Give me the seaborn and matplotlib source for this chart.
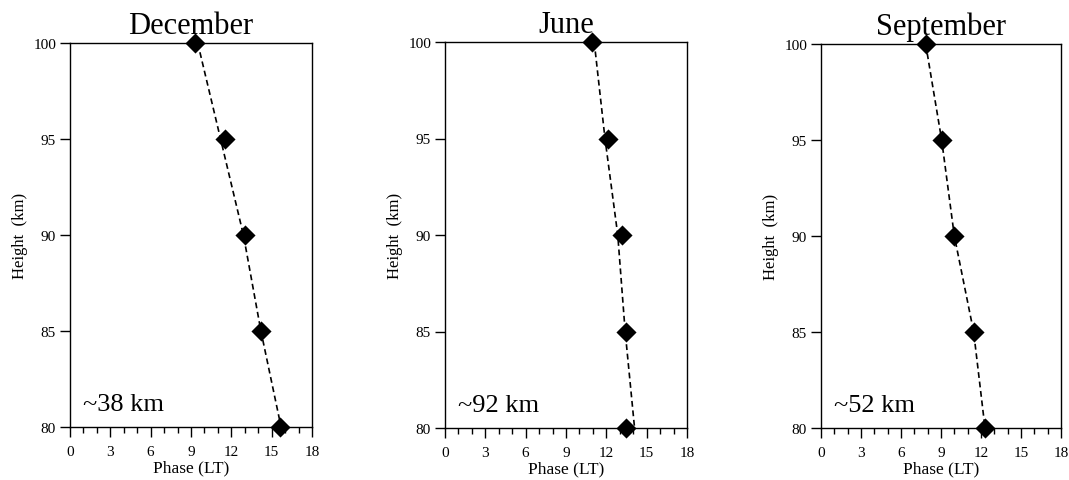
import numpy as np
import pandas as pd
import matplotlib
matplotlib.use("Agg")
import matplotlib.pyplot as plt
import seaborn as sns
from matplotlib.ticker import MultipleLocator

# Heights (km) shared by every panel
heights = [100, 95, 90, 85, 80]

# Phase (LT) at each height
dec_phase = [9.3, 11.55, 13.0, 14.2, 15.65]
jun_phase = [10.9, 12.1, 13.2, 13.45, 13.45]
sep_phase = [7.85, 9.1, 10.0, 11.5, 12.3]

# Dashed fit line vertices
dec_fit = [9.5, 11.2, 12.9, 14.2, 15.7]
jun_fit = [11.1, 11.9, 12.85, 13.4, 14.1]
sep_fit = [7.85, 9.05, 10.0, 11.45, 12.3]

months = ["December", "June", "September"]
wavelengths = ["~38 km", "~92 km", "~52 km"]

sns.set_style("ticks")
plt.rcParams['font.family'] = ['Liberation Serif', 'DejaVu Serif']
plt.rcParams['text.color'] = 'black'
plt.rcParams['axes.labelcolor'] = 'black'
plt.rcParams['xtick.color'] = 'black'
plt.rcParams['ytick.color'] = 'black'

fig = plt.figure(figsize=(10.69, 4.81), dpi=100)

# axes boxes in pixels: left, top, right, bottom
boxes = [(70, 44, 312, 428), (445, 43, 687, 429), (821, 45, 1061, 429)]
W, H = 1069, 481

panels = [(dec_phase, dec_fit), (jun_phase, jun_fit), (sep_phase, sep_fit)]

for (l, t, r, b), month, wl, (phase, fit) in zip(boxes, months, wavelengths, panels):
    ax = fig.add_axes([l / W, (H - b) / H, (r - l) / W, (b - t) / H])
    df = pd.DataFrame({'phase': phase, 'fit': fit, 'height': heights})

    sns.lineplot(data=df, x='fit', y='height', sort=False, estimator=None,
                 color='black', linewidth=1.2, linestyle=(0, (3.5, 2.2)), ax=ax)
    sns.scatterplot(data=df, x='phase', y='height', marker='D', s=105,
                    color='black', linewidth=0, ax=ax, zorder=5)
    for c in ax.collections:
        c.set_clip_on(False)

    ax.set_xlim(0, 18)
    ax.set_ylim(80, 100)
    ax.xaxis.set_major_locator(MultipleLocator(3))
    ax.xaxis.set_minor_locator(MultipleLocator(1))
    ax.yaxis.set_major_locator(MultipleLocator(5))
    ax.tick_params(axis='both', which='major', direction='out', length=7,
                   width=1, labelsize=11)
    ax.tick_params(axis='x', which='minor', direction='out', length=4, width=1)
    ax.tick_params(axis='x', pad=6)
    ax.tick_params(axis='y', pad=3)

    for side in ['left', 'bottom', 'top', 'right']:
        ax.spines[side].set_visible(True)
        ax.spines[side].set_color('black')
        ax.spines[side].set_linewidth(1)

    ax.set_xlabel('Phase (LT)', fontsize=12.5, labelpad=1)
    ax.set_ylabel('Height  (km)', fontsize=12, labelpad=4)
    ax.set_title(month, fontsize=22, pad=7)
    ax.text(0.055, 0.045, wl, transform=ax.transAxes, fontsize=19,
            ha='left', va='baseline')

fig.savefig('out.png', dpi=100)
